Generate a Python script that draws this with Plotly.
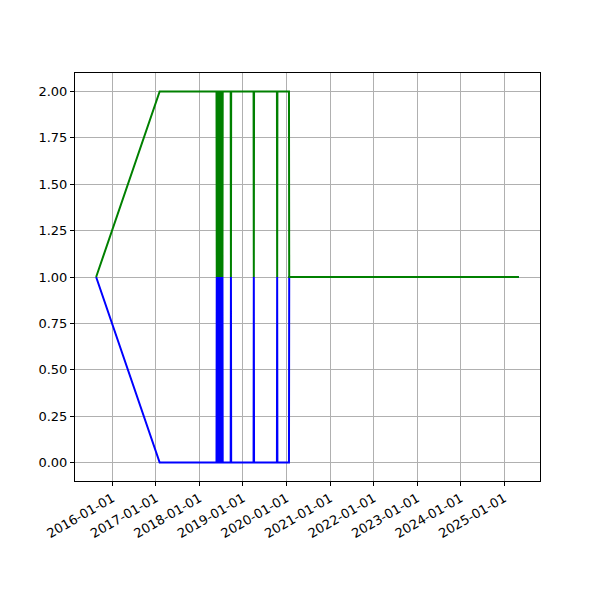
import plotly.graph_objects as go
import pandas as pd

dates = [
    "2015-08-18", "2017-02-01",
    "2018-05-24", "2018-05-26", "2018-05-28",
    "2018-06-01", "2018-06-03", "2018-06-05",
    "2018-06-09", "2018-06-11", "2018-06-13",
    "2018-06-17", "2018-06-19", "2018-06-21",
    "2018-06-25", "2018-06-27", "2018-06-29",
    "2018-07-03", "2018-07-05", "2018-07-07",
    "2018-07-11", "2018-07-13", "2018-07-15",
    "2018-09-20", "2018-09-22", "2018-09-24",
    "2019-03-31", "2019-04-02", "2019-04-04",
    "2019-10-13", "2019-10-15", "2019-10-17",
    "2020-01-22", "2020-01-24",
    "2025-05-04",
]
blue_values = [
    1, 0,
    0, 1, 0,
    0, 1, 0,
    0, 1, 0,
    0, 1, 0,
    0, 1, 0,
    0, 1, 0,
    0, 1, 0,
    0, 1, 0,
    0, 1, 0,
    0, 1, 0,
    0, 1,
    1,
]
green_values = [
    1, 2,
    2, 1, 2,
    2, 1, 2,
    2, 1, 2,
    2, 1, 2,
    2, 1, 2,
    2, 1, 2,
    2, 1, 2,
    2, 1, 2,
    2, 1, 2,
    2, 1, 2,
    2, 1,
    1,
]
tick_dates = ["2016-01-01", "2017-01-01", "2018-01-01", "2019-01-01", "2020-01-01",
              "2021-01-01", "2022-01-01", "2023-01-01", "2024-01-01", "2025-01-01"]

x = pd.to_datetime(dates)
span = x.max() - x.min()
xrange = [x.min() - span * 0.05, x.max() + span * 0.05]

fig = go.Figure()
fig.add_trace(go.Scatter(x=x, y=blue_values, mode="lines",
                         line=dict(color="#0000ff", width=2), showlegend=False))
fig.add_trace(go.Scatter(x=x, y=green_values, mode="lines",
                         line=dict(color="#008000", width=2), showlegend=False))

axis_common = dict(showgrid=True, gridcolor="#b0b0b0", gridwidth=0.8,
                   showline=True, linecolor="black", linewidth=1, mirror=True,
                   ticks="outside", ticklen=4, tickcolor="black", tickwidth=1,
                   zeroline=False, automargin=False,
                   tickfont=dict(family="DejaVu Sans", size=13, color="black"))

fig.update_xaxes(range=xrange, tickmode="array", tickvals=pd.to_datetime(tick_dates),
                 ticktext=tick_dates, tickangle=-30, **axis_common)
fig.update_yaxes(range=[-0.1, 2.1], tickmode="array",
                 tickvals=[0, 0.25, 0.5, 0.75, 1.0, 1.25, 1.5, 1.75, 2.0],
                 tickformat=".2f", **axis_common)

fig.update_layout(width=600, height=600, margin=dict(l=67, r=68, t=65, b=127),
                  plot_bgcolor="white", paper_bgcolor="white",
                  font=dict(family="DejaVu Sans"))

fig.write_html("out.html")
